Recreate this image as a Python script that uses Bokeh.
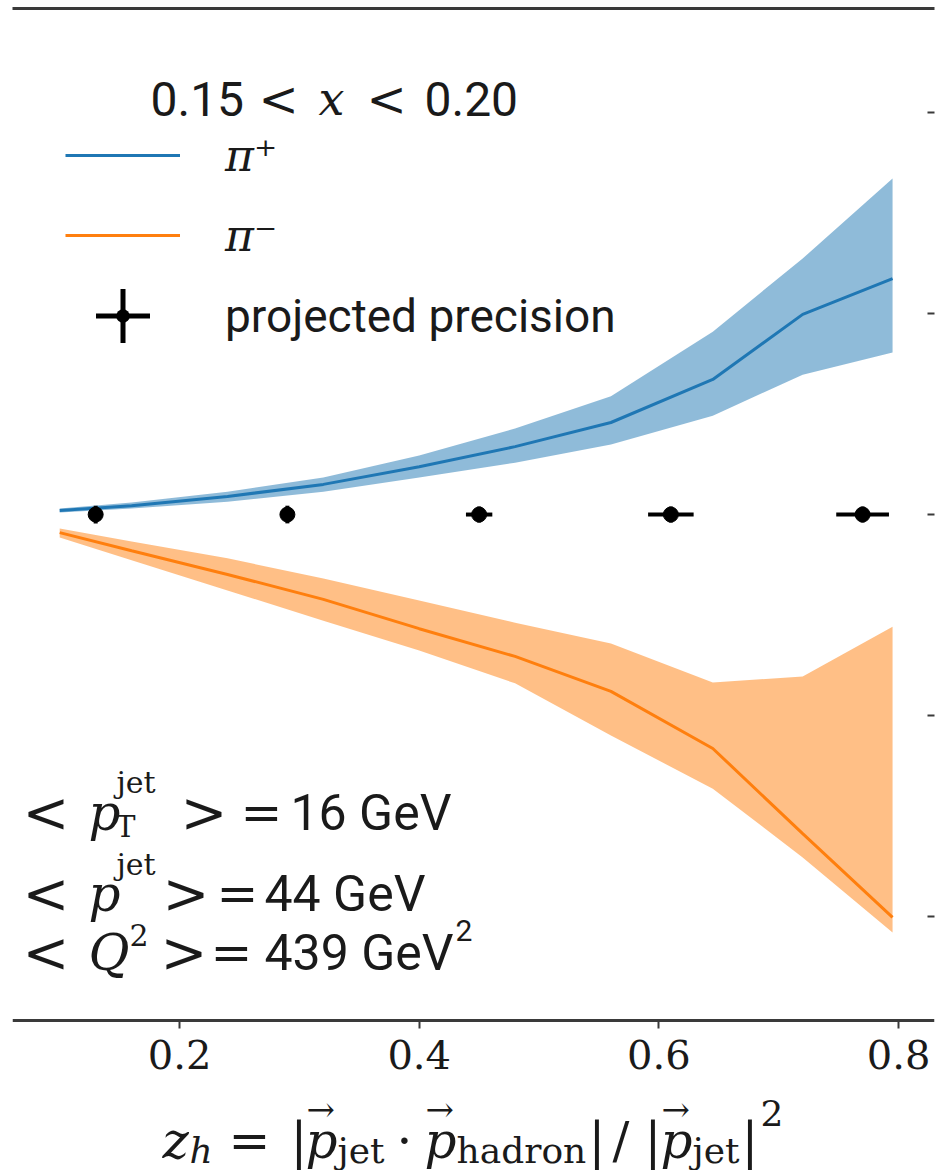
from bokeh.plotting import figure
from bokeh.models import (Label, Legend, LegendItem, LinearAxis, FixedTicker,
                          CustomJSTickFormatter, Range1d)
from bokeh.embed import file_html
from bokeh.resources import INLINE

# ---- data -------------------------------------------------------------
z_knots = [0.10, 0.16, 0.24, 0.32, 0.40, 0.48, 0.56, 0.645, 0.72, 0.795]

pip_mid = [0.0010, 0.0022, 0.0045, 0.0075, 0.0119, 0.0169, 0.0229, 0.0336, 0.0498, 0.0587]
pip_hi = [0.0015, 0.0030, 0.0057, 0.0092, 0.0147, 0.0214, 0.0294, 0.0455, 0.0637, 0.0836]
pip_lo = [0.0005, 0.0015, 0.0032, 0.0057, 0.0092, 0.0129, 0.0174, 0.0246, 0.0348, 0.0403]

pim_mid = [-0.0045, -0.0090, -0.0149, -0.0211, -0.0284, -0.0353, -0.0440, -0.0582, -0.0794, -0.1002]
pim_hi = [-0.0035, -0.0067, -0.0109, -0.0159, -0.0214, -0.0269, -0.0321, -0.0418, -0.0403, -0.0279]
pim_lo = [-0.0057, -0.0114, -0.0189, -0.0264, -0.0338, -0.0420, -0.0550, -0.0682, -0.0853, -0.1040]

proj_z = [0.13, 0.29, 0.45, 0.61, 0.77]
proj_val = [0.0, 0.0, 0.0, 0.0, 0.0]
proj_zerr = [0.004, 0.005, 0.011, 0.019, 0.022]
proj_err = [0.0022, 0.0022, 0.0020, 0.0020, 0.0020]

x_ticks = [0.2, 0.4, 0.6, 0.8]
x_tick_labels = ["0.2", "0.4", "0.6", "0.8"]
y_ticks = [-0.10, -0.05, 0.0, 0.05, 0.10]

BLUE = "#1f77b4"
ORANGE = "#ff7f0e"
INK = "#1a1a1a"
SPINE = "#3a3a3a"
SANS = "Roboto"
SERIF = "DejaVu Serif"

# ---- figure -----------------------------------------------------------
W, H = 940, 1170
FL, FB = 12, 1170          # frame left / bottom on the canvas
Y_AXIS_AT = -0.12587       # where the z axis line sits
p = figure(width=W, height=H,
           x_range=Range1d(0.0606, 0.830), y_range=Range1d(-0.1632, 0.1259),
           x_axis_location=None, y_axis_location=None,
           output_backend="svg", toolbar_location=None,
           min_border_left=FL, min_border_right=6, min_border_top=8,
           min_border_bottom=0)
p.outline_line_color = None
p.background_fill_color = "white"
p.border_fill_color = "white"
p.xgrid.grid_line_color = None
p.ygrid.grid_line_color = None

# bands and central curves
p.varea(x=z_knots, y1=pip_lo, y2=pip_hi, fill_color=BLUE, fill_alpha=0.5)
p.varea(x=z_knots, y1=pim_lo, y2=pim_hi, fill_color=ORANGE, fill_alpha=0.5)
r_pip = p.line(z_knots, pip_mid, line_color=BLUE, line_width=3)
r_pim = p.line(z_knots, pim_mid, line_color=ORANGE, line_width=3)

# projected precision points with error bars
x0 = [a - b for a, b in zip(proj_z, proj_zerr)]
x1 = [a + b for a, b in zip(proj_z, proj_zerr)]
y0 = [a - b for a, b in zip(proj_val, proj_err)]
y1 = [a + b for a, b in zip(proj_val, proj_err)]
p.segment(x0=x0, y0=proj_val, x1=x1, y1=proj_val, line_color="black", line_width=4)
p.segment(x0=proj_z, y0=y0, x1=proj_z, y1=y1, line_color="black", line_width=4)
p.scatter(proj_z, proj_val, size=15, marker="circle", fill_color="black", line_color="black")

# zero-size copies of the points: they only give the legend its error-bar symbol
r_cross = p.scatter(proj_z, proj_val, size=0, marker="cross", line_color="black", line_width=5)
r_dot = p.scatter(proj_z, proj_val, size=0, marker="dot", line_color="black",
                  fill_color="black", line_width=4)

# ---- axes -------------------------------------------------------------
xa = LinearAxis(ticker=FixedTicker(ticks=x_ticks), fixed_location=Y_AXIS_AT,
                major_label_overrides=dict(zip(x_ticks, x_tick_labels)),
                axis_line_color=SPINE, axis_line_width=3,
                major_tick_line_color=SPINE, major_tick_line_width=2,
                major_tick_in=0, major_tick_out=8,
                minor_tick_line_color=None,
                major_label_text_font=SERIF, major_label_text_font_size="40px",
                major_label_text_color=INK, major_label_standoff=12)
p.add_layout(xa, "below")

top = LinearAxis(ticker=FixedTicker(ticks=[]), axis_line_color=SPINE, axis_line_width=3,
                 major_tick_line_color=None, minor_tick_line_color=None,
                 major_label_text_font_size="0px")
p.add_layout(top, "above")

ra = LinearAxis(ticker=FixedTicker(ticks=y_ticks),
                formatter=CustomJSTickFormatter(code="return ''"),
                axis_line_color=None, major_tick_line_color=SPINE, major_tick_line_width=2,
                major_tick_in=7, major_tick_out=0, minor_tick_line_color=None,
                major_label_standoff=0)
p.add_layout(ra, "right")

# ---- legends ----------------------------------------------------------
leg_pi = Legend(items=[LegendItem(label="π⁺", renderers=[r_pip]),
                       LegendItem(label="π⁻", renderers=[r_pim])],
                location=(53, 895), glyph_width=115, glyph_height=80, label_height=80,
                label_standoff=45, spacing=0, padding=0, margin=0,
                border_line_color=None, background_fill_alpha=0,
                label_text_font=SERIF, label_text_font_style="italic",
                label_text_font_size="44px", label_text_color=INK)
p.add_layout(leg_pi)

leg_proj = Legend(items=[LegendItem(label="projected precision", renderers=[r_cross, r_dot])],
                  location=(43, 787), glyph_width=135, glyph_height=135, label_height=135,
                  label_standoff=35, spacing=0, padding=0, margin=0,
                  border_line_color=None, background_fill_alpha=0,
                  label_text_font=SANS, label_text_font_size="46px", label_text_color=INK)
p.add_layout(leg_proj)


# ---- rich text runs (canvas px, alphabetic baseline) --------------------
def put(x, y, text, font=SERIF, size=50, style="normal"):
    p.add_layout(Label(x=x - FL, y=FB - y, x_units="screen", y_units="screen",
                       text=text, text_font=font, text_font_size=f"{size}px",
                       text_font_style=style, text_baseline="alphabetic",
                       text_color=INK))


# bin title
put(150, 98, "0.15", SANS, 48)
put(258, 98, "<", SERIF, 48)
put(318, 98, "x", SERIF, 46, "italic")
put(366, 98, "<", SERIF, 48)
put(424, 98, "0.20", SANS, 48)

# kinematic averages
put(22, 812, "<", size=56)
put(88, 812, "p", style="italic")
put(116, 782, "jet", size=30)
put(115, 826, "T", size=30)
put(180, 812, ">", size=56)
put(240, 812, "=")
put(290, 812, "16 GeV", SANS, 50)

put(22, 893, "<", size=56)
put(88, 893, "p", style="italic")
put(116, 864, "jet", size=30)
put(162, 893, ">", size=56)
put(216, 893, "=")
put(264, 893, "44 GeV", SANS, 50)

put(22, 952, "<", size=56)
put(88, 952, "Q", style="italic")
put(129, 934, "2", size=30)
put(160, 952, ">", size=56)
put(210, 952, "=")
put(264, 952, "439 GeV", SANS, 50)
put(455, 930, "2", SANS, 30)

# z-axis title: z_h = |p_jet . p_hadron| / |p_jet|^2
BL = 1140
put(162, BL, "z", size=50, style="italic")
put(189, BL + 10, "h", size=36, style="italic")
put(228, BL, "=", size=50)
put(290, BL, "|", size=50)
put(305, BL, "p", size=50, style="italic")
put(306, BL - 32, "→", size=34)
put(337, BL + 10, "jet", size=36)
put(396, BL, "·", size=50)
put(424, BL, "p", size=50, style="italic")
put(425, BL - 32, "→", size=34)
put(456, BL + 10, "hadron", size=36)
put(588, BL, "|", size=50)
put(612, BL, "/", size=50)
put(644, BL, "|", size=50)
put(660, BL, "p", size=50, style="italic")
put(661, BL - 32, "→", size=34)
put(692, BL + 10, "jet", size=36)
put(741, BL, "|", size=50)
put(760, BL - 28, "2", size=36)

open("out.html", "w").write(file_html(p, INLINE))
